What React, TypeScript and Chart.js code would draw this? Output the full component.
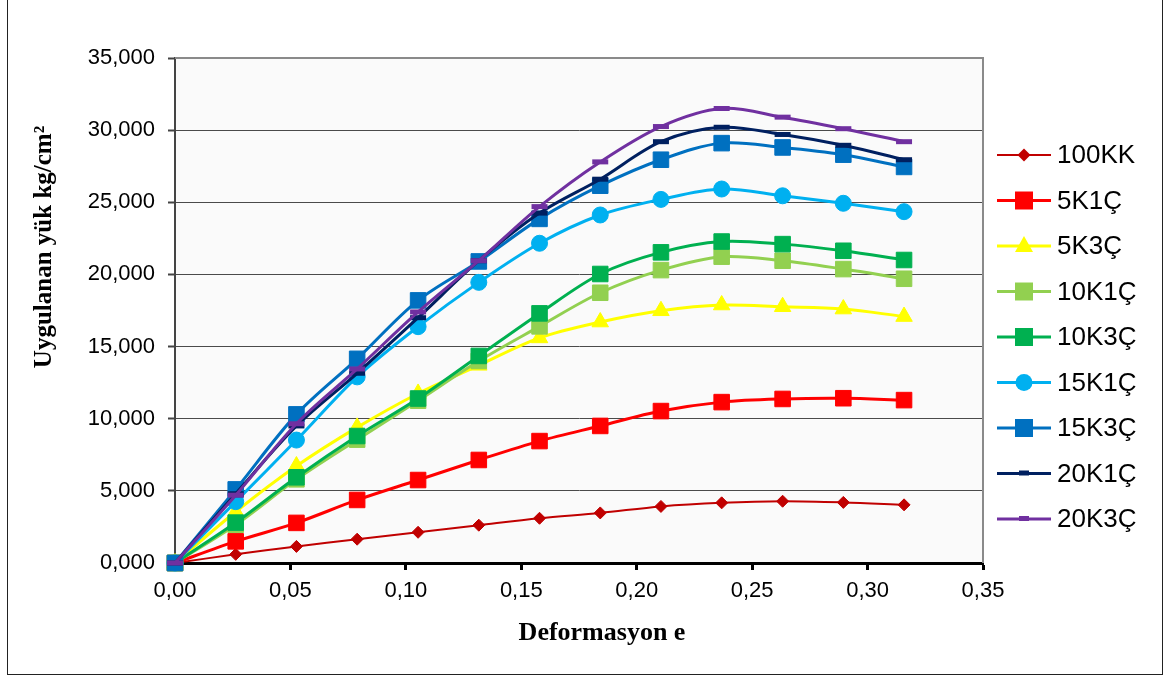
import React, { useEffect, useRef } from 'react';
import { Chart, registerables } from 'chart.js';

Chart.register(...registerables);

// ---- data ----
const xValues = [0, 0.0263, 0.0526, 0.0789, 0.1053, 0.1316, 0.1579, 0.1842, 0.2105, 0.2368, 0.2632, 0.2895, 0.3158];

const s100KK = [0, 600, 1150, 1650, 2130, 2620, 3100, 3470, 3920, 4170, 4280, 4200, 4030];
const s5K1C = [0, 1500, 2780, 4370, 5750, 7140, 8450, 9500, 10530, 11150, 11370, 11420, 11290];
const s5K3C = [0, 3550, 6720, 9400, 11750, 13700, 15600, 16700, 17480, 17880, 17760, 17600, 17080];
const s10K1C = [0, 2650, 5800, 8550, 11250, 14000, 16400, 18730, 20300, 21230, 20950, 20370, 19700];
const s10K3C = [0, 2800, 5940, 8800, 11400, 14350, 17300, 20030, 21530, 22280, 22100, 21640, 21000];
const s15K1C = [0, 4250, 8520, 12900, 16380, 19450, 22160, 24120, 25200, 25920, 25450, 24930, 24350];
const s15K3C = [0, 5100, 10300, 14150, 18200, 20900, 23850, 26150, 27950, 29100, 28800, 28300, 27450];
const s20K1C = [0, 4800, 9500, 13150, 17000, 20950, 24250, 26600, 29200, 30200, 29700, 28950, 27950];
const s20K3C = [0, 4700, 9650, 13450, 17400, 20950, 24700, 27800, 30250, 31500, 30900, 30100, 29200];

const seriesNames = ['100KK', '5K1Ç', '5K3Ç', '10K1Ç', '10K3Ç', '15K1Ç', '15K3Ç', '20K1Ç', '20K3Ç'];
const seriesValues = [s100KK, s5K1C, s5K3C, s10K1C, s10K3C, s15K1C, s15K3C, s20K1C, s20K3C];

const xTickLabels = ['0,00', '0,05', '0,10', '0,15', '0,20', '0,25', '0,30', '0,35'];
const yTickLabels = ['0,000', '5,000', '10,000', '15,000', '20,000', '25,000', '30,000', '35,000'];

const xTitle = 'Deformasyon e';
const yTitle = 'Uygulanan yük kg/cm²';

// ---- styles ----
const seriesColors = ['#C00000', '#FF0000', '#FFFF00', '#92D050', '#00B050', '#00B0F0', '#0070C0', '#002060', '#7030A0'];
const seriesMarkers = ['rectRot', 'rect', 'triangle', 'rect', 'rect', 'circle', 'rect', 'line', 'line'];
const markerRadii = [6, 11, 9.5, 11, 11, 8, 11, 8, 8];
const lineWidths = [2, 3, 3, 3, 3, 3, 3, 3, 3];

const SANS = '"Liberation Sans", Arial, sans-serif';
const SERIF = '"Liberation Serif", "Times New Roman", serif';

function drawLegendMarker(ctx: CanvasRenderingContext2D, style: string, x: number, y: number, color: string) {
  ctx.fillStyle = color;
  ctx.beginPath();
  if (style === 'rectRot') {
    ctx.moveTo(x, y - 6.5);
    ctx.lineTo(x + 6.5, y);
    ctx.lineTo(x, y + 6.5);
    ctx.lineTo(x - 6.5, y);
    ctx.closePath();
    ctx.fill();
  } else if (style === 'rect') {
    ctx.rect(x - 9, y - 9, 18, 18);
    ctx.fill();
  } else if (style === 'triangle') {
    ctx.moveTo(x, y - 10);
    ctx.lineTo(x + 9, y + 6);
    ctx.lineTo(x - 9, y + 6);
    ctx.closePath();
    ctx.fill();
  } else if (style === 'circle') {
    ctx.arc(x, y, 8.5, 0, Math.PI * 2);
    ctx.fill();
  } else if (style === 'line') {
    ctx.rect(x - 5, y - 3, 10, 5);
    ctx.fill();
  }
}

const decorPlugin = {
  id: 'decor',
  beforeDraw(chart: any) {
    const { ctx, chartArea } = chart;
    ctx.save();
    ctx.fillStyle = '#ffffff';
    ctx.fillRect(0, 0, chart.width, chart.height);
    ctx.fillStyle = '#FAFAFA';
    ctx.fillRect(chartArea.left, chartArea.top, chartArea.right - chartArea.left, chartArea.bottom - chartArea.top);
    ctx.restore();
  },
  beforeDatasetsDraw(chart: any) {
    const { ctx, chartArea } = chart;
    ctx.save();
    ctx.strokeStyle = '#8A8A8A';
    ctx.lineWidth = 2;
    ctx.beginPath();
    ctx.moveTo(chartArea.left, chartArea.top);
    ctx.lineTo(chartArea.right, chartArea.top);
    ctx.lineTo(chartArea.right, chartArea.bottom);
    ctx.stroke();
    ctx.restore();
  },
  afterDraw(chart: any) {
    const { ctx } = chart;
    ctx.save();
    // outer frame
    ctx.strokeStyle = '#222';
    ctx.lineWidth = 1;
    ctx.strokeRect(7.5, -2, 1155, 676.5);

    // axis titles
    ctx.fillStyle = '#000';
    ctx.font = `bold 26px ${SERIF}`;
    ctx.textAlign = 'center';
    ctx.textBaseline = 'middle';
    ctx.fillText(xTitle, 602, 633);

    ctx.save();
    ctx.translate(45, 247);
    ctx.rotate(-Math.PI / 2);
    ctx.font = `bold 25px ${SERIF}`;
    ctx.fillText(yTitle, 0, 0);
    ctx.restore();

    // legend
    seriesNames.forEach((name, i) => {
      const y = 155 + i * 45.5;
      ctx.strokeStyle = seriesColors[i];
      ctx.lineWidth = i === 0 ? 2 : 3;
      ctx.beginPath();
      ctx.moveTo(997, y);
      ctx.lineTo(1051, y);
      ctx.stroke();
      drawLegendMarker(ctx, seriesMarkers[i], 1024, y, seriesColors[i]);
      ctx.fillStyle = '#000';
      ctx.font = `26px ${SANS}`;
      ctx.textAlign = 'left';
      ctx.textBaseline = 'middle';
      ctx.fillText(name, 1057, y + 1);
    });
    ctx.restore();
  },
};

export default function App() {
  const canvasRef = useRef<HTMLCanvasElement | null>(null);

  useEffect(() => {
    const canvas = canvasRef.current;
    if (!canvas) return;
    const n = seriesNames.length;
    const datasets = seriesNames.map((name, i) => ({
      label: name,
      data: seriesValues[i].map((v, j) => ({ x: xValues[j], y: v })),
      borderColor: seriesColors[i],
      backgroundColor: seriesColors[i],
      borderWidth: lineWidths[i],
      pointStyle: seriesMarkers[i] as any,
      pointRadius: markerRadii[i],
      pointBorderWidth: seriesMarkers[i] === 'line' ? 5 : 1,
      pointBorderColor: seriesColors[i],
      pointBackgroundColor: seriesColors[i],
      tension: 0.33,
      fill: false,
      clip: false as any,
      order: n - 1 - i,
    }));

    const chart = new Chart(canvas, {
      type: 'line',
      data: { datasets },
      options: {
        responsive: false,
        animation: false,
        devicePixelRatio: 1,
        layout: { padding: { left: 0, top: 58, right: 185, bottom: 0 } },
        plugins: {
          legend: { display: false },
          tooltip: { enabled: false },
          title: { display: false },
        },
        scales: {
          x: {
            type: 'linear',
            min: 0,
            max: 0.35,
            ticks: {
              stepSize: 0.05,
              autoSkip: false,
              maxRotation: 0,
              padding: 8,
              color: '#000',
              font: { family: SANS, size: 22 },
              callback: (_v: any, i: number) => xTickLabels[i],
            },
            grid: {
              drawOnChartArea: false,
              tickLength: 7,
              tickColor: '#000',
              tickWidth: 3,
            },
            border: { color: '#000', width: 3 },
            afterFit: (s: any) => {
              s.height = 116;
            },
          },
          y: {
            type: 'linear',
            min: 0,
            max: 35000,
            ticks: {
              stepSize: 5000,
              padding: 13,
              color: '#000',
              font: { family: SANS, size: 22 },
              callback: (_v: any, i: number) => yTickLabels[i],
            },
            grid: {
              color: '#4a4a4a',
              lineWidth: 1,
              tickLength: 7,
              tickColor: '#444',
              tickWidth: 2,
            },
            border: { color: '#444', width: 2 },
            afterFit: (s: any) => {
              s.width = 175;
            },
          },
        },
      },
      plugins: [decorPlugin],
    });

    return () => {
      chart.destroy();
    };
  }, []);

  return (
    <div style={{ position: 'absolute', left: 0, top: 0, width: 1168, height: 679 }}>
      <canvas ref={canvasRef} width={1168} height={679} style={{ display: 'block' }} />
    </div>
  );
}
